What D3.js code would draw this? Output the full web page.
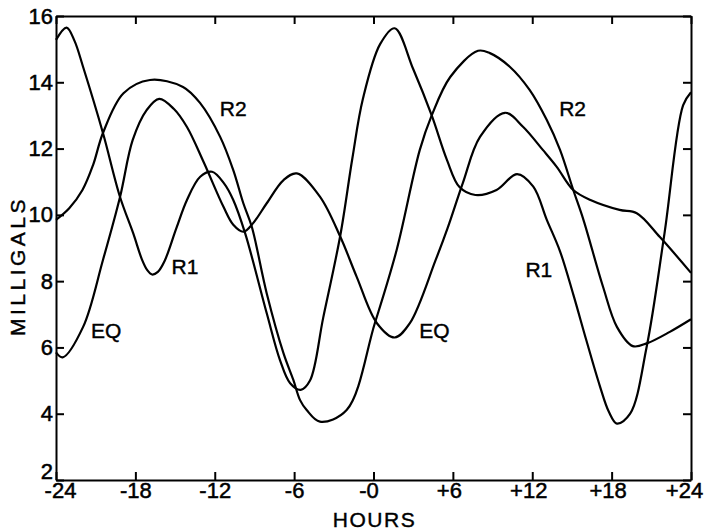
<!DOCTYPE html>
<html lang="en-us">
<meta charset="utf-8">
<head>
  <title> Milligals by hour </title>
  <style>
  body {
    margin: 0;
    background: #fff;
  }

  .line {
    fill: none;
    stroke: #000;
    stroke-width: 2.2px;
  }

  .axis path, .axis line {
    stroke: #000;
    stroke-width: 2px;
  }

  .axis text {
    font: 22px "Liberation Sans", Arial, sans-serif;
    fill: #000;
    stroke: #000;
    stroke-width: 0.5px;
  }

  .title, .curveLabel {
    font-family: "Liberation Sans", Arial, sans-serif;
    fill: #000;
    stroke: #000;
    stroke-width: 0.4px;
  }
  </style>
</head>
<body>
  <svg id="chart" width="706" height="531"></svg>
  <script src="https://d3js.org/d3.v7.min.js"></script>
  <script>

// tick values and labels
var xTicks = [-24, -18, -12, -6, 0, 6, 12, 18, 24];
var xTickLabels = ["-24", "-18", "-12", "-6", "-0", "+6", "+12", "+18", "+24"];
var yTicks = [2, 4, 6, 8, 10, 12, 14, 16];

// EQ curve
var eqHours = [-24, -23.5, -21.95, -20.45, -19.16, -18.2, -17.15, -16.2, -15.1, -14.1, -12.85, -11.35, -10.6, -9.84, -9.1, -8.07, -6.8, -5.8, -4.05, -2.5, -1.27, 0.26, 1.6, 2.75, 4.7, 5.6, 6.75, 8.05, 9.94, 11.3, 12.8, 13.85, 15.1, 16.4, 18.6, 19.9, 21.65, 24];
var eqValues = [5.85, 5.7, 6.62, 8.64, 10.54, 12.26, 13.16, 13.5, 13.2, 12.65, 11.6, 10.25, 9.7, 9.49, 9.75, 10.35, 11.05, 11.25, 10.55, 9.33, 8.13, 6.73, 6.3, 6.73, 8.64, 9.6, 10.96, 12.35, 13.08, 12.66, 11.96, 11.45, 10.75, 10.45, 10.15, 10.05, 9.33, 8.25];

// R1 curve
var r1Hours = [-24, -23.2, -22.6, -21.95, -20.45, -19.16, -18.16, -17.5, -17.1, -16.74, -16.3, -15.8, -14.9, -14.1, -13.1, -12.2, -11.3, -10.6, -9.7, -8.07, -7.07, -6.3, -5.5, -4.8, -3.8, -2.5, -1.6, -0.8, 0.5, 1.6, 3.0, 4.4, 5.55, 6.5, 7.7, 9.3, 10.85, 12.08, 13.1, 14.1, 15.1, 16.1, 17.1, 17.8, 18.4, 19.4, 20.65, 22.0, 23.4, 24];
var r1Values = [15.28, 15.65, 15.25, 14.46, 12.47, 10.54, 9.44, 8.65, 8.33, 8.2, 8.28, 8.6, 9.6, 10.45, 11.15, 11.3, 10.95, 10.45, 9.44, 7.03, 5.62, 4.92, 4.72, 5.0, 6.9, 9.4, 11.7, 13.5, 15.15, 15.63, 14.4, 13.0, 11.66, 10.84, 10.6, 10.75, 11.23, 10.85, 9.85, 8.9, 7.6, 6.2, 4.85, 4.05, 3.7, 4.0, 6.02, 9.45, 13.3, 13.7];

// R2 curve
var r2Hours = [-24, -23, -22, -21.2, -20.45, -18.9, -16.9, -14.4, -13.1, -11.6, -10.6, -9.84, -9.2, -8.07, -6.8, -6.06, -5.55, -5.05, -4.05, -2.03, 0.1, 1.75, 3.5, 4.4, 5.8, 7.9, 8.8, 10.3, 11.8, 13.1, 14.1, 15.1, 15.87, 17.35, 18.4, 19.6, 20.7, 22.4, 24];
var r2Values = [9.85, 10.2, 10.75, 11.5, 12.47, 13.67, 14.07, 13.86, 13.37, 12.36, 11.35, 10.35, 9.64, 7.63, 5.82, 5.02, 4.41, 4.11, 3.76, 4.11, 6.73, 8.94, 11.96, 13.0, 14.16, 14.95, 14.88, 14.47, 13.77, 12.86, 11.96, 10.75, 9.85, 7.83, 6.62, 6.04, 6.13, 6.47, 6.85];

// curve labels (hour, milligals)
var labelNames = ["R2", "R1", "EQ", "EQ", "R1", "R2"];
var labelHours = [-10.6, -14.25, -20.2, 4.6, 12.5, 15.05];
var labelValues = [13.2, 8.45, 6.5, 6.5, 8.35, 13.2];

var svg = d3.select("svg#chart"),
    margin = {top: 16, right: 15, bottom: 51, left: 56},
    width = svg.attr("width") - margin.left - margin.right,
    height = svg.attr("height") - margin.top - margin.bottom,
    g = svg.append("g").attr("transform", "translate(" + margin.left + "," + margin.top + ")");

var xScale = d3.scaleLinear().domain([-24, 24]).range([0, width]),
    yScale = d3.scaleLinear().domain([2, 16]).range([height, 0]);

var line = d3.line()
    .curve(d3.curveCatmullRom.alpha(0.5))
    .x(function(d) { return xScale(d.hour); })
    .y(function(d) { return yScale(d.value); });

function pairUp(hours, values) {
  return hours.map(function(h, i) { return {hour: h, value: values[i]}; });
}

var series = [
  pairUp(eqHours, eqValues),
  pairUp(r1Hours, r1Values),
  pairUp(r2Hours, r2Values)
];

// inward ticks on all four sides
g.append("g")
    .attr("class", "axis axis--x")
    .attr("transform", "translate(0," + height + ")")
    .call(d3.axisBottom(xScale)
        .tickValues(xTicks)
        .tickFormat(function(d, i) { return xTickLabels[i]; })
        .tickSizeInner(-8).tickSizeOuter(0).tickPadding(3));

g.append("g")
    .attr("class", "axis axis--top")
    .call(d3.axisTop(xScale)
        .tickValues(xTicks).tickFormat("")
        .tickSizeInner(-8).tickSizeOuter(0));

g.append("g")
    .attr("class", "axis axis--y")
    .call(d3.axisLeft(yScale)
        .tickValues(yTicks)
        .tickSizeInner(-8).tickSizeOuter(0).tickPadding(3));

g.append("g")
    .attr("class", "axis axis--right")
    .attr("transform", "translate(" + width + ",0)")
    .call(d3.axisRight(yScale)
        .tickValues(yTicks).tickFormat("")
        .tickSizeInner(-8).tickSizeOuter(0));

g.selectAll(".axis text").attr("font-family", null);

// nudge the hour labels the way the lettering sits in the original
g.selectAll(".axis--x .tick text")
    .attr("dy", "0.7em")
    .attr("dx", function(d, i) {
      var t = xTickLabels[i];
      if (d === -24) return 4;
      if (d === 24) return -7;
      if (t.charAt(0) === "+") return -4;
      if (d === 0) return -5;
      return 0;
    });

// the bottom "2" sits a little higher so it clears "-24"
g.selectAll(".axis--y .tick text")
    .filter(function(d) { return d === 2; })
    .attr("dy", "-0.06em");

// the curves
g.selectAll(".line")
    .data(series)
    .enter().append("path")
      .attr("class", "line")
      .attr("d", line);

// labels next to the curves
g.selectAll(".curveLabel")
    .data(labelNames)
    .enter().append("text")
      .attr("class", "curveLabel")
      .attr("x", function(d, i) { return xScale(labelHours[i]); })
      .attr("y", function(d, i) { return yScale(labelValues[i]); })
      .attr("dy", "0.36em")
      .attr("text-anchor", "middle")
      .style("font-size", "21px")
      .text(function(d) { return d; });

// axis titles
svg.append("text")
    .attr("class", "title")
    .attr("transform", "translate(25," + 266 + ") rotate(-90)")
    .attr("text-anchor", "middle")
    .style("font-size", "21px")
    .style("letter-spacing", "3.5px")
    .text("MILLIGALS");

svg.append("text")
    .attr("class", "title")
    .attr("x", margin.left + width / 2 + 1)
    .attr("y", 527)
    .attr("text-anchor", "middle")
    .style("font-size", "21px")
    .style("letter-spacing", "1.5px")
    .text("HOURS");

</script>
</body>
</html>
